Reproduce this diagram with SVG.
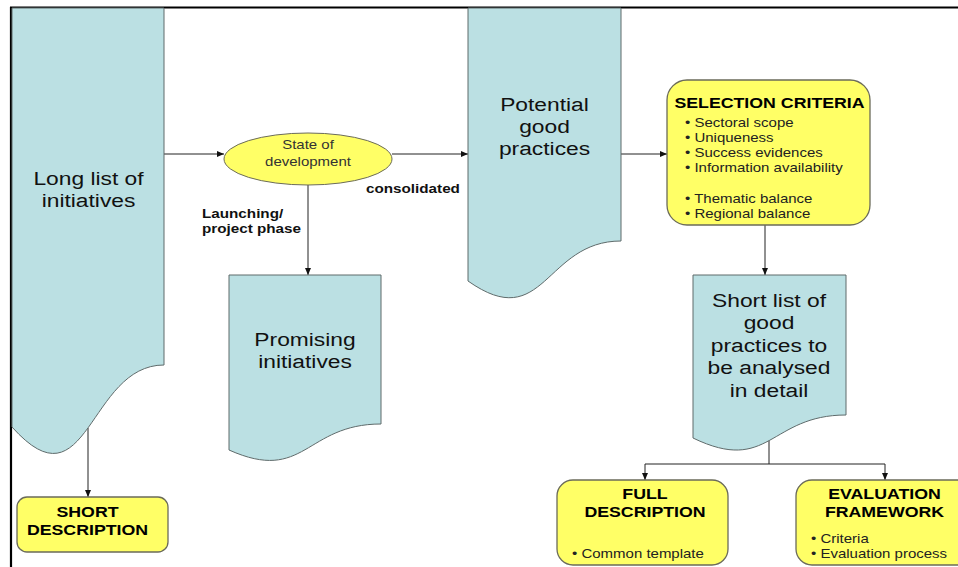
<svg xmlns="http://www.w3.org/2000/svg" width="958" height="567" viewBox="0 0 958 567">
<defs>
<marker id="arr" viewBox="0 0 7 6" refX="7" refY="3" markerWidth="7" markerHeight="6" markerUnits="userSpaceOnUse" orient="auto">
<path d="M0,0 L7,3 L0,6 z" fill="#111"/>
</marker>
<style>
.doc{fill:#BBE0E3;stroke:#5f6b6b;stroke-width:1}
.yel{fill:#FFFF66;stroke:#6b6b5a;stroke-width:1.3}
.con{fill:none;stroke:#222;stroke-width:1;marker-end:url(#arr)}
.line{fill:none;stroke:#222;stroke-width:1}
.big{font-family:"Liberation Sans",Arial,sans-serif;font-size:19px;fill:#111;text-anchor:middle}
.hd{font-family:"Liberation Sans",Arial,sans-serif;font-size:14.8px;font-weight:bold;fill:#000;text-anchor:middle}
.sm{font-family:"Liberation Sans",Arial,sans-serif;font-size:12.5px;fill:#222}
.smc{font-family:"Liberation Sans",Arial,sans-serif;font-size:12.5px;fill:#333;text-anchor:middle}
.lbl{font-family:"Liberation Sans",Arial,sans-serif;font-size:12.7px;font-weight:bold;fill:#111}
</style>
</defs>
<rect width="958" height="567" fill="#fff"/>
<g id="frame">
<line x1="10" y1="7.5" x2="958" y2="7.5" stroke="#000" stroke-width="2.2"/>
<line x1="11" y1="7" x2="11" y2="567" stroke="#000" stroke-width="2.2"/>
</g>
<g id="connectors">
<line class="con" x1="164" y1="154" x2="224" y2="154"/>
<line class="con" x1="392" y1="154" x2="468" y2="154"/>
<line class="con" x1="308" y1="185" x2="308" y2="275"/>
<line class="con" x1="621" y1="154" x2="667" y2="154"/>
<line class="con" x1="765" y1="225" x2="765" y2="275"/>
<line class="con" x1="88" y1="428" x2="88" y2="497"/>
<polyline class="line" points="769,440 769,464"/>
<polyline class="line" points="645,464 885,464"/>
<line class="con" x1="645" y1="464" x2="645" y2="480"/>
<line class="con" x1="885" y1="464" x2="885" y2="480"/>
</g>
<g id="long-list">
<path class="doc" d="M12,8 H164 V365 C88,365 88,512 12,427 Z"/>
<text class="big" transform="translate(88.5,185) scale(1.2,1)">Long list of</text>
<text class="big" transform="translate(88.5,207) scale(1.2,1)">initiatives</text>
</g>
<g id="state">
<ellipse cx="308" cy="159" rx="84" ry="26" fill="#FFFF66" stroke="#6b6b5a" stroke-width="1"/>
<text class="smc" transform="translate(308,149) scale(1.2,1)">State of</text>
<text class="smc" transform="translate(308,166) scale(1.2,1)">development</text>
</g>
<g id="labels">
<text class="lbl" transform="translate(202,218) scale(1.2,1)">Launching/</text>
<text class="lbl" transform="translate(202,232.5) scale(1.2,1)">project phase</text>
<text class="lbl" transform="translate(366,193) scale(1.2,1)">consolidated</text>
</g>
<g id="promising">
<path class="doc" d="M229,275 H381 V424 C305,424 305,484 229,450 Z"/>
<text class="big" transform="translate(305,346) scale(1.2,1)">Promising</text>
<text class="big" transform="translate(305,368.3) scale(1.2,1)">initiatives</text>
</g>
<g id="potential">
<path class="doc" d="M468,8 H621 V241 C544.5,241 544.5,335 468,281 Z"/>
<text class="big" transform="translate(544.5,111) scale(1.2,1)">Potential</text>
<text class="big" transform="translate(544.5,133) scale(1.2,1)">good</text>
<text class="big" transform="translate(544.5,155) scale(1.2,1)">practices</text>
</g>
<g id="selection">
<rect class="yel" x="667" y="80" width="203" height="145" rx="20" ry="20"/>
<text class="hd" transform="translate(769.5,108) scale(1.2,1)">SELECTION CRITERIA</text>
<text class="sm" transform="translate(685,126.7) scale(1.2,1)">• Sectoral scope</text>
<text class="sm" transform="translate(685,141.7) scale(1.2,1)">• Uniqueness</text>
<text class="sm" transform="translate(685,156.7) scale(1.2,1)">• Success evidences</text>
<text class="sm" transform="translate(685,171.7) scale(1.2,1)">• Information availability</text>
<text class="sm" transform="translate(685,202.7) scale(1.2,1)">• Thematic balance</text>
<text class="sm" transform="translate(685,217.7) scale(1.2,1)">• Regional balance</text>
</g>
<g id="short-list">
<path class="doc" d="M693,275 H846 V415 C769.5,415 769.5,475 693,438 Z"/>
<text class="big" transform="translate(769,306.7) scale(1.2,1)">Short list of</text>
<text class="big" transform="translate(769,329.3) scale(1.2,1)">good</text>
<text class="big" transform="translate(769,351.7) scale(1.2,1)">practices to</text>
<text class="big" transform="translate(769,374.3) scale(1.2,1)">be analysed</text>
<text class="big" transform="translate(769,397) scale(1.2,1)">in detail</text>
</g>
<g id="short-description">
<rect class="yel" x="17" y="497" width="151" height="55" rx="10" ry="10"/>
<text class="hd" transform="translate(87.5,517.3) scale(1.2,1)">SHORT</text>
<text class="hd" transform="translate(87.5,535) scale(1.2,1)">DESCRIPTION</text>
</g>
<g id="full-description">
<rect class="yel" x="557" y="480" width="171" height="85" rx="16" ry="16"/>
<text class="hd" transform="translate(645,499) scale(1.2,1)">FULL</text>
<text class="hd" transform="translate(645,517.3) scale(1.2,1)">DESCRIPTION</text>
<text class="sm" transform="translate(572,558.3) scale(1.2,1)">• Common template</text>
</g>
<g id="evaluation-framework">
<rect class="yel" x="796" y="480" width="178" height="85" rx="16" ry="16"/>
<text class="hd" transform="translate(884.5,499) scale(1.2,1)">EVALUATION</text>
<text class="hd" transform="translate(884.5,517.3) scale(1.2,1)">FRAMEWORK</text>
<text class="sm" transform="translate(811,542.7) scale(1.2,1)">• Criteria</text>
<text class="sm" transform="translate(811,558.3) scale(1.2,1)">• Evaluation process</text>
</g>
</svg>
